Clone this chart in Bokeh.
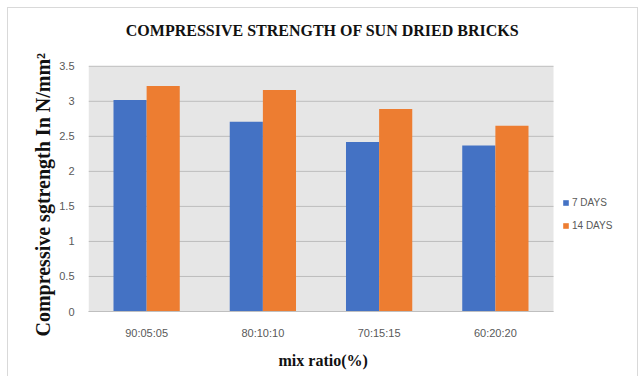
from bokeh.plotting import figure
from bokeh.models import (ColumnDataSource, Range1d, Legend, LegendItem, Label, Title,
                          BoxAnnotation, FixedTicker, InlineStyleSheet)
from bokeh.transform import dodge
from bokeh.embed import file_html
from bokeh.resources import INLINE

# Mix ratios and compressive strength (N/mm²) after curing
mix_ratios = ["90:05:05", "80:10:10", "70:15:15", "60:20:20"]
strength_7_days = [3.02, 2.71, 2.42, 2.37]
strength_14_days = [3.22, 3.16, 2.89, 2.65]
series_names = ["7 DAYS", "14 DAYS"]
y_ticks = [0, 0.5, 1, 1.5, 2, 2.5, 3, 3.5]
chart_title = "COMPRESSIVE STRENGTH OF  SUN DRIED  BRICKS"
x_title = "mix ratio(%)"
y_title = "Compressive sgtrength  In  N/mm²"

BLUE = "#4472C4"
ORANGE = "#ED7D31"
PLOT_BG = "#e6e6e6"
GRID = "#bdbdbd"

n = len(mix_ratios)
y_max = y_ticks[-1]
slot = [i + 0.5 for i in range(n)]          # centre of each category slot

W, H = 641, 376
LEFT, BOTTOM = 88, 64
cat_px = 116.25                               # pixel width of one category
px_per_unit = 246 / y_max                     # pixel height of one N/mm²

source = ColumnDataSource(dict(x=slot, mix=mix_ratios,
                               d7=strength_7_days, d14=strength_14_days))

# the frame reaches the top and right edges so the title and legend are not clipped
p = figure(
    x_range=Range1d(0, (W - LEFT) / cat_px),
    y_range=Range1d(0, (H - BOTTOM) / px_per_unit),
    width=W, height=H,
    output_backend="svg", toolbar_location=None,
    min_border_left=LEFT, min_border_right=0,
    min_border_top=0, min_border_bottom=BOTTOM,
)
p.title.visible = False
p.background_fill_color = "white"
p.border_fill_color = "white"
p.outline_line_color = None
p.xgrid.visible = False
p.ygrid.visible = False
# light frame around the whole chart
p.stylesheets = [InlineStyleSheet(css="""
:host { position: relative; }
:host::after {
  content: ""; position: absolute; left: 7px; top: 7px; right: 3px; bottom: 0;
  border: 1px solid #d9d9d9; border-bottom: none;
  pointer-events: none; z-index: 50;
}
""")]

# grey plotting area with horizontal gridlines
p.add_layout(BoxAnnotation(left=0, right=n, bottom=0, top=y_max,
                           fill_color=PLOT_BG, fill_alpha=1, line_color=None,
                           level="image"))
p.segment(x0=0, x1=n, y0=y_ticks, y1=y_ticks, line_color=GRID, line_width=1)

bar_w = 0.285
r7 = p.vbar(x=dodge("x", -bar_w / 2), top="d7", width=bar_w,
            source=source, fill_color=BLUE, line_color=None)
r14 = p.vbar(x=dodge("x", bar_w / 2), top="d14", width=bar_w,
             source=source, fill_color=ORANGE, line_color=None)

# axes
p.xaxis.ticker = FixedTicker(ticks=slot)
p.xaxis.major_label_overrides = {s: m for s, m in zip(slot, mix_ratios)}
p.xaxis.bounds = (0, n)
p.yaxis.ticker = FixedTicker(ticks=y_ticks)
p.yaxis.major_label_overrides = {t: f"{t:g}" for t in y_ticks}
p.yaxis.bounds = (0, y_max)

for ax in (p.xaxis[0], p.yaxis[0]):
    ax.major_tick_line_color = None
    ax.minor_tick_line_color = None
    ax.major_label_text_color = "#595959"
    ax.major_label_text_font = "Liberation Sans"
    ax.major_label_text_font_size = "11px"

p.yaxis.axis_line_color = None
p.yaxis.major_label_standoff = 8
p.xaxis.axis_line_color = "#bfbfbf"
p.xaxis.major_label_standoff = 9

# axis titles, placed along the grey plotting area rather than the whole frame
p.add_layout(Title(text=y_title, align="left", offset=-25, standoff=6,
                   text_font="Liberation Serif", text_font_style="bold",
                   text_font_size="20px", text_color="#111111"), "left")
p.add_layout(Title(text=x_title, align="left", offset=190, standoff=16,
                   text_font="Liberation Serif", text_font_style="bold",
                   text_font_size="16px", text_color="#111111"), "below")

# chart title
p.add_layout(Label(
    x=238, y=281, x_units="screen", y_units="screen",
    text=chart_title,
    text_font="Liberation Serif", text_font_style="bold", text_font_size="16px",
    text_align="center", text_baseline="middle", text_color="#111111",
))

# legend to the right of the bars
legend = Legend(
    items=[LegendItem(label=series_names[0], renderers=[r7]),
           LegendItem(label=series_names[1], renderers=[r14])],
    location=(474, 80),
    glyph_width=7, glyph_height=7, label_standoff=3, spacing=12,
    padding=0, margin=0,
    label_text_font="Liberation Sans", label_text_font_size="10px",
    label_text_color="#595959",
    border_line_color=None, background_fill_alpha=0,
)
p.add_layout(legend)

open("out.html", "w").write(file_html(p, INLINE))
